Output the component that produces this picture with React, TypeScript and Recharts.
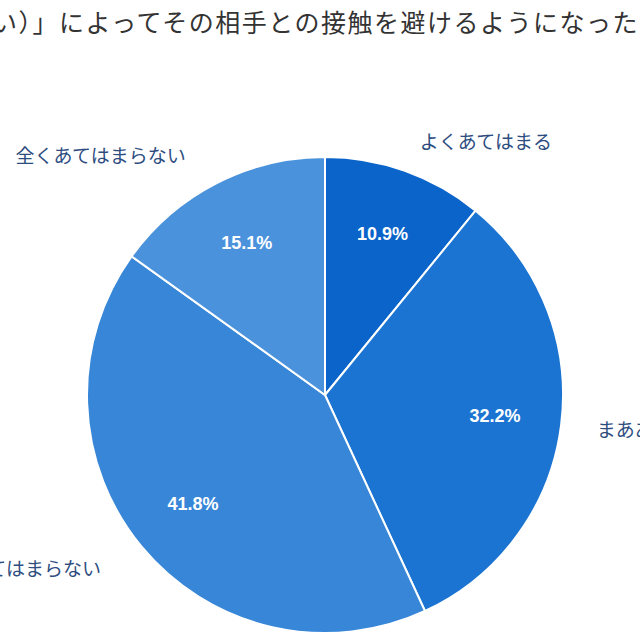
import { PieChart, Pie, Cell } from 'recharts'

const categories = ['よくあてはまる', 'まああてはまる', 'あまりあてはまらない', '全くあてはまらない']
const shares = [10.9, 32.2, 41.8, 15.1]
const COLORS = ['#0a64c9', '#1b74d1', '#3786d8', '#4b92dc']

const data = categories.map((name, i) => ({ name, value: shares[i] }))

const RAD = Math.PI / 180
const FONT = '"Noto Sans CJK JP", "Noto Sans", sans-serif'

// percentage inside the slice + category name outside it
function renderLabel(props: any) {
  const { cx, cy, midAngle, outerRadius, index } = props
  const cos = Math.cos(-midAngle * RAD)
  const sin = Math.sin(-midAngle * RAD)
  const inR = outerRadius * 0.72
  const outR = outerRadius + 32
  const ox = cx + outR * cos + (cos >= 0 ? 4 : -16)
  const oy = cy + outR * sin
  return (
    <g>
      <text
        x={cx + inR * cos}
        y={cy + inR * sin}
        fill="#ffffff"
        fontSize={18}
        fontWeight="bold"
        fontFamily="Arial, 'Liberation Sans', sans-serif"
        textAnchor="middle"
        dominantBaseline="central"
      >
        {`${shares[index].toFixed(1)}%`}
      </text>
      <text
        x={ox}
        y={oy}
        fill="#2e4d7f"
        fontSize={19}
        fontFamily={FONT}
        textAnchor={cos >= 0 ? 'start' : 'end'}
        dominantBaseline="central"
      >
        {categories[index]}
      </text>
    </g>
  )
}

export default function App() {
  return (
    <div
      style={{
        position: 'absolute',
        left: 0,
        top: 0,
        width: 640,
        height: 640,
        overflow: 'hidden',
        background: '#ffffff',
      }}
    >
      <div
        style={{
          position: 'absolute',
          left: -8,
          top: 3,
          whiteSpace: 'nowrap',
          fontFamily: FONT,
          fontSize: 25,
          color: '#333333',
          letterSpacing: '1.5px',
        }}
      >
        い）」によってその相手との接触を避けるようになった
      </div>
      <div style={{ position: 'absolute', left: 0, top: 0 }}>
        <PieChart width={640} height={640} margin={{ top: 0, right: 0, bottom: 0, left: 0 }}>
          <Pie
            data={data}
            dataKey="value"
            nameKey="name"
            cx={325}
            cy={395}
            outerRadius={238}
            startAngle={90}
            endAngle={-270}
            stroke="#ffffff"
            strokeWidth={2}
            label={renderLabel}
            labelLine={false}
            isAnimationActive={false}
          >
            {data.map((_, i) => (
              <Cell key={i} fill={COLORS[i]} />
            ))}
          </Pie>
        </PieChart>
      </div>
    </div>
  )
}
